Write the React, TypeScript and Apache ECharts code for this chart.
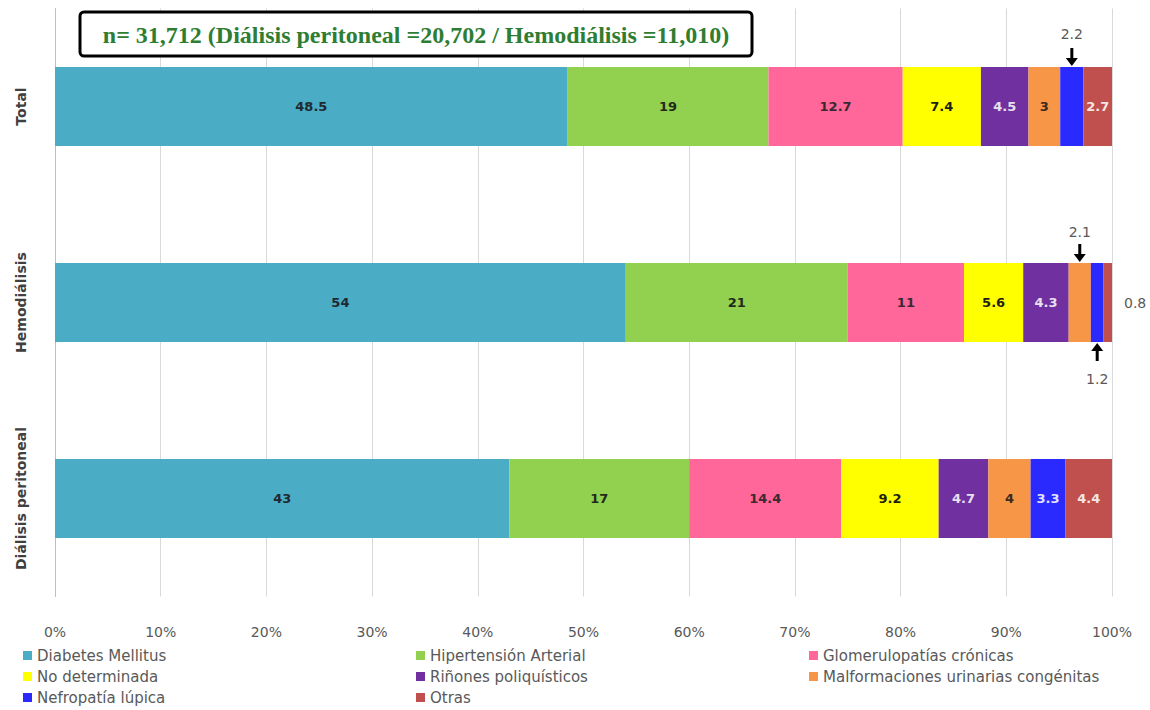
import React, { useEffect, useRef } from "react";
import * as echarts from "echarts";

const categories = ["Diálisis peritoneal", "Hemodiálisis", "Total"];
const seriesNames = [
  "Diabetes Mellitus",
  "Hipertensión Arterial",
  "Glomerulopatías crónicas",
  "No determinada",
  "Riñones poliquísticos",
  "Malformaciones urinarias congénitas",
  "Nefropatía lúpica",
  "Otras",
];
const diabetes = [43, 54, 48.5];
const hipertension = [17, 21, 19];
const glomerulopatias = [14.4, 11, 12.7];
const noDeterminada = [9.2, 5.6, 7.4];
const rinones = [4.7, 4.3, 4.5];
const malformaciones = [4, 2.1, 3];
const nefropatia = [3.3, 1.2, 2.2];
const otras = [4.4, 0.8, 2.7];
const allValues = [diabetes, hipertension, glomerulopatias, noDeterminada, rinones, malformaciones, nefropatia, otras];
const titleText = "n= 31,712 (Diálisis peritoneal =20,702 / Hemodiálisis =11,010)";

const colors = ["#4BACC6", "#92D050", "#FF6699", "#FFFF00", "#7030A0", "#F79646", "#2A2AFF", "#C0504D"];
const labelColors = ["#1f2a30", "#1f2a1a", "#3a2a30", "#1f1f10", "#e8e0f0", "#3a2a20", "#e0e0ff", "#f5e5e5"];

// outside labels: [seriesIndex, categoryIndex, position, distance, arrow]
const outside: [number, number, string, number, string][] = [
  [6, 2, "top", 26, "down"],
  [5, 1, "top", 24, "down"],
  [6, 1, "bottom", 30, "up"],
  [7, 1, "right", 12, "none"],
];

const FONT = "DejaVu Sans";

export default function App() {
  const ref = useRef<HTMLDivElement>(null);
  useEffect(() => {
    const chart = echarts.init(ref.current!, null, { renderer: "svg" });
    const series = seriesNames.map((name, si) => ({
      name,
      type: "bar",
      stack: "all",
      barWidth: 79,
      itemStyle: { color: colors[si] },
      label: {
        show: true,
        position: "inside",
        formatter: "{c}",
        color: labelColors[si],
        fontFamily: FONT,
        fontWeight: "bold",
        fontSize: 13,
      },
      data: allValues[si].map((v, ci) => {
        const o = outside.find((d) => d[0] === si && d[1] === ci);
        if (!o) return v;
        return {
          value: v,
          label: {
            show: true,
            position: o[2],
            distance: o[3],
            color: "#595959",
            fontWeight: "normal",
            fontSize: 14,
          },
        };
      }),
    }));
    chart.setOption({
      animation: false,
      backgroundColor: "#ffffff",
      grid: { left: 55, right: 38, top: 8.5, bottom: 113.5, containLabel: false },
      xAxis: {
        type: "value",
        min: 0,
        max: 100,
        interval: 10,
        axisLine: { show: false },
        axisTick: { show: false },
        axisLabel: { formatter: "{value}%", color: "#595959", fontFamily: FONT, fontSize: 14, margin: 28 },
        splitLine: { show: true, lineStyle: { color: "#d9d9d9", width: 1 } },
      },
      yAxis: {
        type: "category",
        data: categories,
        axisLine: { show: true, lineStyle: { color: "#bfbfbf" } },
        axisTick: { show: false },
        axisLabel: {
          rotate: 90,
          color: "#404040",
          fontFamily: FONT,
          fontWeight: "bold",
          fontSize: 14,
          margin: 27,
        },
      },
      legend: [
        [0, 3, 6],
        [1, 4, 7],
        [2, 5],
      ].map((idx, li) => ({
        orient: "vertical",
        left: [18, 411, 804][li],
        top: 643,
        height: 70,
        itemWidth: 9,
        itemHeight: 9,
        itemGap: 6,
        icon: "rect",
        data: idx.map((i) => seriesNames[i]),
        textStyle: { color: "#595959", fontFamily: FONT, fontSize: 15 },
      })),
      series,
    });

    const graphics: any[] = [
      {
        type: "rect",
        shape: { x: 80, y: 12, width: 672, height: 44, r: 4 },
        style: { fill: "#ffffff", stroke: "#000000", lineWidth: 3 },
        z: 100,
      },
      {
        type: "text",
        x: 416,
        y: 35,
        style: {
          text: titleText,
          fill: "#2E7D32",
          font: "bold 24px 'Liberation Serif'",
          align: "center",
          verticalAlign: "middle",
        },
        z: 101,
      },
    ];
    outside.forEach(([si, ci, , , dir]) => {
      if (dir === "none") return;
      let start = 0;
      for (let k = 0; k < si; k++) start += allValues[k][ci];
      const mid = start + allValues[si][ci] / 2;
      const p = chart.convertToPixel({ gridIndex: 0 }, [mid, categories[ci]]) as number[];
      const half = 39.5;
      const sgn = dir === "down" ? 1 : -1;
      const tip = dir === "down" ? p[1] - half - 1 : p[1] + half + 1;
      const tail = tip - sgn * 18;
      const headBase = tip - sgn * 8;
      graphics.push({
        type: "line",
        shape: { x1: p[0], y1: tail, x2: p[0], y2: headBase },
        style: { stroke: "#000000", lineWidth: 3 },
        z: 100,
      });
      graphics.push({
        type: "polygon",
        shape: { points: [[p[0] - 6, headBase], [p[0] + 6, headBase], [p[0], tip]] },
        style: { fill: "#000000" },
        z: 100,
      });
    });
    chart.setOption({ graphic: graphics });
    return () => chart.dispose();
  }, []);
  return (
    <div
      ref={ref}
      style={{ position: "absolute", left: 0, top: 0, width: 1150, height: 710 }}
    />
  );
}
